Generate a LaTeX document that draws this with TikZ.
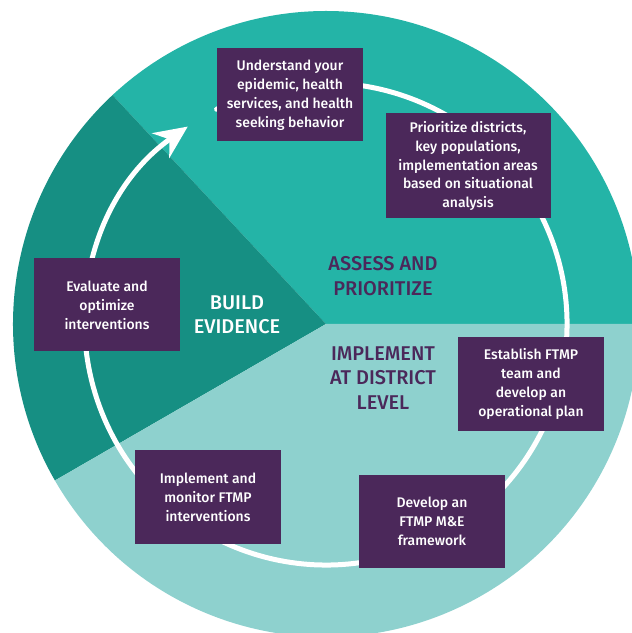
\documentclass[tikz,border=0pt]{standalone}
\usepackage{fontspec}
\setmainfont{Fira Sans}[BoldFont={Fira Sans Medium}]
\usetikzlibrary{arrows.meta}
\definecolor{assesscol}{HTML}{24B4A7}
\definecolor{buildcol}{HTML}{168F83}
\definecolor{implcol}{HTML}{8ED1CE}
\definecolor{boxcol}{HTML}{4B285A}
\tikzset{
  stepbox/.style={fill=boxcol, text=white, align=center, inner sep=0pt,
    minimum width=146bp, minimum height=93bp,
    font=\bfseries\fontsize{14}{19}\selectfont},
  phase/.style={align=center, font=\bfseries\fontsize{20}{24.5}\selectfont}
}
\begin{document}
\begin{tikzpicture}[x=1bp, y=1bp, line join=round, line cap=round, >={Stealth[length=33bp,width=30bp]}]
\useasboundingbox (-326,-309) rectangle (306,324);
\clip (-326,-309) rectangle (306,324);
% the three phases
\fill[assesscol] (0,0) -- (0:313) arc[start angle=0, end angle=133, radius=313] -- cycle;
\fill[buildcol] (0,0) -- (133:313) arc[start angle=133, end angle=210, radius=313] -- cycle;
\fill[implcol] (0,0) -- (210:313) arc[start angle=210, end angle=360, radius=313] -- cycle;
% the cycle
\draw[white, line width=5bp, ->] (117:241) arc[start angle=117, end angle=-235, radius=241];
\node[phase, text=boxcol] (assess) at (57,48) {ASSESS AND\\PRIORITIZE};
\node[phase, text=white] (build) at (-89,9) {BUILD\\EVIDENCE};
\node[phase, text=boxcol] (implement) at (57,-54) {IMPLEMENT\\AT DISTRICT\\LEVEL};
\node[stepbox] (understand) at (-36,229) {Understand your\\epidemic, health\\services, and health\\seeking behavior};
\node[stepbox, minimum width=165bp, minimum height=105bp] (prioritize) at (142,158) {Prioritize districts,\\key populations,\\implementation areas\\based on situational\\analysis};
\node[stepbox] (establish) at (205,-60) {Establish FTMP\\team and\\develop an\\operational plan};
\node[stepbox] (develop) at (106,-197) {Develop an\\FTMP M\&E\\framework};
\node[stepbox] (monitor) at (-118,-173) {Implement and\\monitor FTMP\\interventions};
\node[stepbox] (evaluate) at (-219,19) {Evaluate and\\optimize\\interventions};
\end{tikzpicture}
\end{document}
